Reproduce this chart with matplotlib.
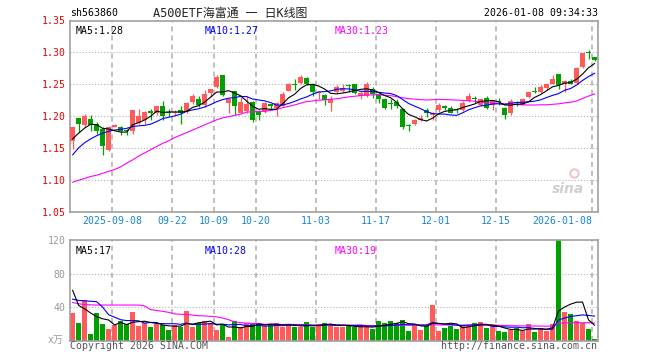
import matplotlib
matplotlib.use('Agg')
import matplotlib.pyplot as plt
import numpy as np

# daily K-line data, 2025-08-28 .. 2026-01-08 (88 trading days)
opens = [1.160, 1.197, 1.186, 1.196, 1.188, 1.180, 1.147, 1.183, 1.182, 1.178,
         1.176, 1.189, 1.194, 1.208, 1.204, 1.216, 1.207, 1.204, 1.210, 1.207,
         1.222, 1.227, 1.218, 1.236, 1.246, 1.265, 1.221, 1.240, 1.205, 1.208,
         1.222, 1.206, 1.207, 1.219, 1.213, 1.216, 1.240, 1.250, 1.252, 1.260,
         1.250, 1.236, 1.233, 1.221, 1.238, 1.240, 1.249, 1.250, 1.232, 1.231,
         1.242, 1.234, 1.227, 1.220, 1.222, 1.211, 1.185, 1.187, 1.194, 1.210,
         1.201, 1.210, 1.215, 1.213, 1.210, 1.210, 1.224, 1.229, 1.218, 1.229,
         1.218, 1.224, 1.213, 1.204, 1.222, 1.218, 1.230, 1.238, 1.238, 1.244,
         1.251, 1.266, 1.251, 1.255, 1.252, 1.277, 1.300, 1.292]
closes = [1.182, 1.188, 1.200, 1.186, 1.176, 1.153, 1.183, 1.186, 1.176, 1.176,
          1.210, 1.200, 1.207, 1.205, 1.216, 1.200, 1.204, 1.207, 1.204, 1.221,
          1.232, 1.217, 1.235, 1.243, 1.261, 1.233, 1.227, 1.216, 1.222, 1.219,
          1.194, 1.202, 1.221, 1.216, 1.221, 1.235, 1.250, 1.249, 1.261, 1.250,
          1.238, 1.238, 1.225, 1.227, 1.246, 1.244, 1.247, 1.236, 1.236, 1.251,
          1.234, 1.227, 1.213, 1.219, 1.215, 1.182, 1.184, 1.194, 1.197, 1.204,
          1.204, 1.218, 1.213, 1.205, 1.209, 1.221, 1.232, 1.227, 1.226, 1.213,
          1.224, 1.222, 1.202, 1.224, 1.220, 1.227, 1.238, 1.237, 1.246, 1.250,
          1.258, 1.249, 1.255, 1.251, 1.275, 1.299, 1.299, 1.288]
highs = [1.183, 1.197, 1.203, 1.202, 1.191, 1.182, 1.184, 1.188, 1.185, 1.179,
         1.210, 1.211, 1.208, 1.211, 1.216, 1.224, 1.211, 1.210, 1.216, 1.222,
         1.235, 1.232, 1.241, 1.243, 1.265, 1.265, 1.228, 1.240, 1.230, 1.232,
         1.223, 1.210, 1.222, 1.219, 1.222, 1.237, 1.252, 1.258, 1.265, 1.262,
         1.252, 1.240, 1.234, 1.232, 1.249, 1.250, 1.250, 1.251, 1.240, 1.253,
         1.245, 1.235, 1.228, 1.227, 1.226, 1.212, 1.188, 1.195, 1.202, 1.212,
         1.206, 1.221, 1.217, 1.216, 1.212, 1.223, 1.236, 1.232, 1.228, 1.232,
         1.225, 1.229, 1.214, 1.226, 1.224, 1.229, 1.240, 1.246, 1.249, 1.252,
         1.264, 1.266, 1.256, 1.258, 1.277, 1.299, 1.304, 1.293]
lows = [1.148, 1.175, 1.182, 1.176, 1.172, 1.139, 1.145, 1.182, 1.170, 1.170,
        1.172, 1.188, 1.188, 1.194, 1.202, 1.194, 1.200, 1.202, 1.188, 1.204,
        1.219, 1.214, 1.214, 1.230, 1.244, 1.232, 1.204, 1.202, 1.204, 1.205,
        1.190, 1.194, 1.204, 1.210, 1.200, 1.215, 1.239, 1.241, 1.250, 1.248,
        1.232, 1.226, 1.218, 1.208, 1.236, 1.238, 1.238, 1.234, 1.226, 1.230,
        1.229, 1.220, 1.211, 1.211, 1.212, 1.179, 1.177, 1.186, 1.192, 1.199,
        1.194, 1.207, 1.210, 1.204, 1.204, 1.208, 1.222, 1.221, 1.216, 1.211,
        1.210, 1.218, 1.196, 1.201, 1.216, 1.217, 1.229, 1.236, 1.236, 1.241,
        1.250, 1.243, 1.238, 1.250, 1.251, 1.275, 1.290, 1.287]
volumes = [33, 21, 48.5, 8, 33, 20, 14, 18.7, 23.4, 20,
           34, 17.5, 21, 16, 20, 19, 12.7, 19, 16, 35,
           16, 21, 23.4, 21, 12.7, 20, 4.4, 23.4, 16, 21,
           20, 20, 17, 20, 21, 16, 19, 16, 16, 22,
           16, 20, 21, 20, 16, 16, 17.5, 16, 17.5, 16,
           14, 23.4, 21, 23.4, 21, 24.6, 11.5, 19, 12.7, 17.5,
           42.5, 11.5, 15, 17.5, 14, 19, 17.5, 21, 22, 15,
           17.5, 11.5, 10.3, 12.7, 15, 11.5, 20, 10.3, 15, 11.5,
           20, 120, 34, 32, 23.4, 21, 14, 2]

# moving-average values before enough visible days exist
ma5_head = [1.164, 1.173, 1.181, 1.187]
ma10_head = [1.139, 1.150, 1.158, 1.164, 1.169, 1.173, 1.176, 1.178, 1.179]
ma30_head = [1.096, 1.099, 1.102, 1.105, 1.107, 1.110, 1.113, 1.116, 1.120, 1.126,
             1.131, 1.137, 1.142, 1.147, 1.152, 1.157, 1.161, 1.166, 1.170, 1.174,
             1.178, 1.182, 1.186, 1.190, 1.194, 1.197, 1.199, 1.201, 1.203]
vma5_head = [60, 42, 38, 33]
vma10_head = [49.5, 48, 47.5, 47, 46.5, 40, 31, 28, 25]
vma30_head = [45.5, 44, 43, 42.7, 42.5, 42.5, 42.5, 42.5, 42.5, 42.5,
              42.5, 42.5, 41.5, 37, 36, 35, 33.8, 32, 31.5, 31.3,
              30.5, 29.8, 29.5, 29, 28.5, 27, 25, 22.5, 21.5]

date_idx = [7, 17, 24, 31, 41, 51, 61, 71, 87]
date_labels = ['2025-09-08', '09-22', '10-09', '10-20', '11-03',
               '11-17', '12-01', '12-15', '2026-01-08']
price_ticks = [1.05, 1.10, 1.15, 1.20, 1.25, 1.30, 1.35]
vol_ticks = [40, 80, 120]

RED = '#ff5b5b'
GREEN = '#00a000'
GRID = '#b4b4b4'
MONO = 'DejaVu Sans Mono'
CJK = ['DejaVu Sans Mono', 'Noto Sans CJK SC']
FS = 7.1

plt.rcParams['lines.scale_dashes'] = False


def moving_avg(vals, n, head):
    out = list(head)
    for i in range(n - 1, len(vals)):
        out.append(np.mean(vals[i - n + 1:i + 1]))
    return out


W, H = 660, 360


def fx(px):
    return px / W


def fy(py):
    return 1 - py / H


o = np.array(opens)
c = np.array(closes)
x = np.arange(len(o))
col = np.where(c >= o, RED, GREEN)

fig = plt.figure(figsize=(6.6, 3.6), dpi=100)
ax = fig.add_axes([fx(70), fy(211.5), fx(597.5) - fx(70), fy(20.5) - fy(211.5)])
axv = fig.add_axes([fx(70), fy(340.7), fx(597.5) - fx(70), fy(240) - fy(340.7)])

for a in (ax, axv):
    a.set_xlim(-0.44, 87.5)
    for s in a.spines.values():
        s.set_color('#a0a0a0')
        s.set_linewidth(1.2)
    for d in date_idx:
        a.axvline(d - 0.4, color=GRID, lw=1.2, ls=(0, (3.6, 2.9)), zorder=0)
    a.tick_params(length=0)

# price panel
ax.set_ylim(1.05, 1.35)
for p in price_ticks[1:-1]:
    ax.axhline(p, color=GRID, lw=0.8, ls=(0, (0.8, 1.4)), zorder=0)
ax.vlines(x, lows, highs, colors=col, lw=0.9, zorder=2)
body_bottom = np.minimum(o, c)
body_h = np.maximum(np.abs(c - o), 0.0016)
ax.bar(x, body_h, bottom=body_bottom, width=0.8, color=col, linewidth=0, zorder=3)
ax.plot(x, moving_avg(c, 30, ma30_head), color='#ff00ff', lw=0.8, zorder=4)
ax.plot(x, moving_avg(c, 10, ma10_head), color='#0000ff', lw=0.8, zorder=4)
ax.plot(x, moving_avg(c, 5, ma5_head), color='black', lw=0.8, zorder=5)

ax.set_yticks(price_ticks)
ax.set_yticklabels([f'{p:.2f}' for p in price_ticks], color='#ee0000',
                   family=MONO, fontsize=FS)
ax.tick_params(axis='y', pad=3)
ax.set_xticks([d - 0.4 for d in date_idx])
ax.set_xticklabels(date_labels, color='#1884d6', family=MONO, fontsize=FS)
ax.tick_params(axis='x', pad=3)
ax.get_xticklabels()[-1].set_horizontalalignment('right')

ax.text(0.01, 0.97, 'MA5:1.28', transform=ax.transAxes, color='black',
        family=MONO, fontsize=FS, va='top', ha='left')
ax.text(0.256, 0.97, 'MA10:1.27', transform=ax.transAxes, color='#0000ff',
        family=MONO, fontsize=FS, va='top', ha='left')
ax.text(0.502, 0.97, 'MA30:1.23', transform=ax.transAxes, color='#ff00ff',
        family=MONO, fontsize=FS, va='top', ha='left')

# sina watermark
ax.text(0.975, 0.08, 'sina', transform=ax.transAxes, color='#cfcfcf',
        fontsize=10, fontweight='bold', style='italic', ha='right', va='bottom',
        family='DejaVu Sans', zorder=1)
ax.plot([0.955], [0.2], 'o', transform=ax.transAxes, ms=6, mfc='none',
        mec='#f2c4c4', mew=1.5, zorder=1)

# volume panel
v = np.array(volumes)
axv.set_ylim(0, 120)
for t in (40, 80):
    axv.axhline(t, color=GRID, lw=0.8, ls=(0, (0.8, 1.4)), zorder=0)
axv.bar(x, v, width=0.8, color=col, linewidth=0, zorder=2)
axv.plot(x, moving_avg(v, 30, vma30_head), color='#ff00ff', lw=0.8, zorder=4)
axv.plot(x, moving_avg(v, 10, vma10_head), color='#0000ff', lw=0.8, zorder=4)
axv.plot(x, moving_avg(v, 5, vma5_head), color='black', lw=0.8, zorder=5)
axv.set_yticks(vol_ticks)
axv.set_yticklabels([str(t) for t in vol_ticks], color='#999999',
                    family=MONO, fontsize=FS)
axv.tick_params(axis='y', pad=3)
axv.set_xticks([])

axv.text(0.01, 0.94, 'MA5:17', transform=axv.transAxes, color='black',
         family=MONO, fontsize=FS, va='top', ha='left')
axv.text(0.256, 0.94, 'MA10:28', transform=axv.transAxes, color='#0000ff',
         family=MONO, fontsize=FS, va='top', ha='left')
axv.text(0.502, 0.94, 'MA30:19', transform=axv.transAxes, color='#ff00ff',
         family=MONO, fontsize=FS, va='top', ha='left')

# header and footer texts
fig.text(fx(70), fy(13), 'sh563860', color='black', family=MONO, fontsize=FS,
         ha='left', va='center')
fig.text(fx(230), fy(13), 'A500ETF海富通 一 日K线图', color='#222222',
         family=CJK, fontsize=8.6, ha='center', va='center')
fig.text(fx(597.5), fy(13), '2026-01-08 09:34:33', color='black', family=MONO,
         fontsize=FS, ha='right', va='center')
fig.text(fx(64), fy(340), 'x万', color='#999999', family=CJK, fontsize=FS,
         ha='right', va='center')
fig.text(fx(70), fy(346), 'Copyright 2026 SINA.COM', color='#555555',
         family=MONO, fontsize=FS, ha='left', va='center')
fig.text(fx(597.5), fy(346), 'http://finance.sina.com.cn', color='#555555',
         family=MONO, fontsize=FS, ha='right', va='center')

fig.savefig('out.png', dpi=100)
